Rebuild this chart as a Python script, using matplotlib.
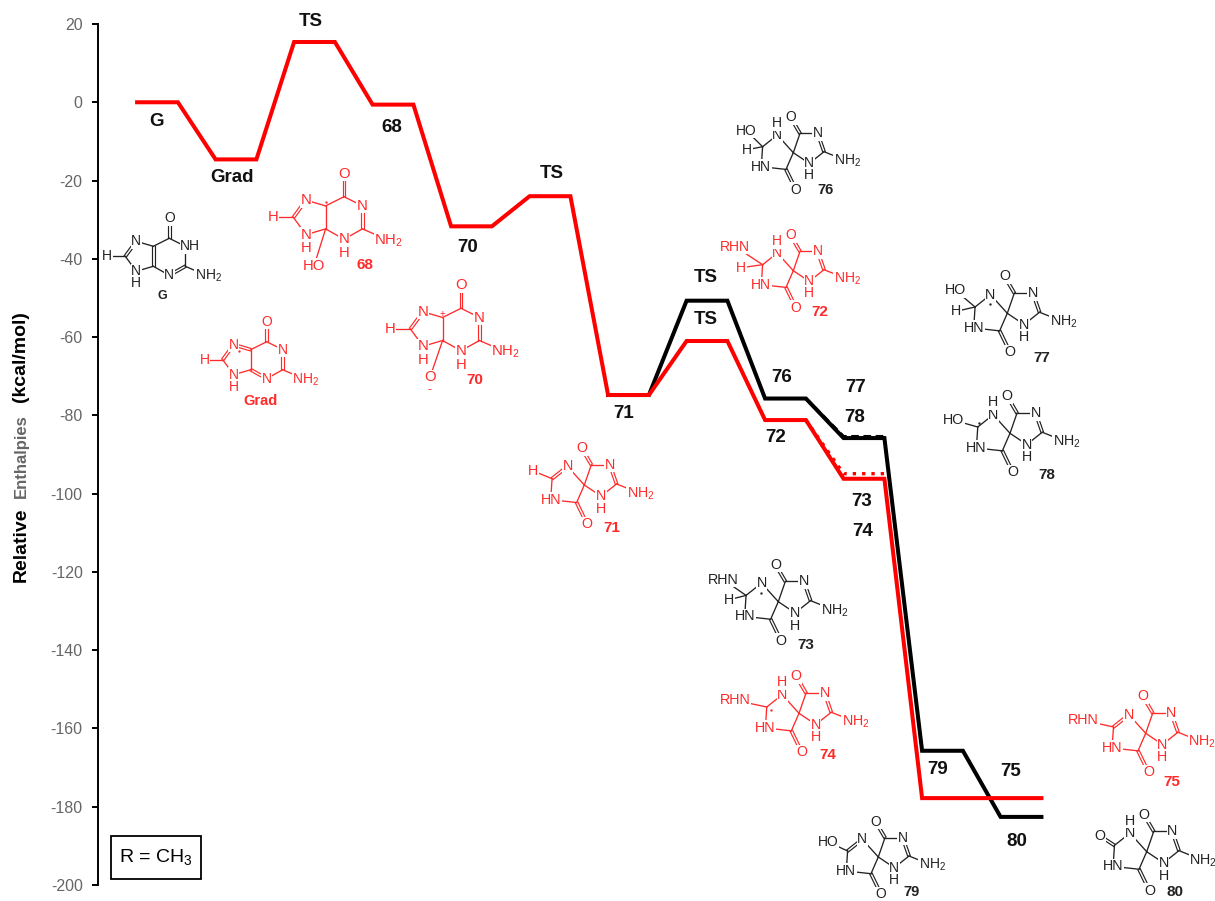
import matplotlib
matplotlib.use('Agg')
from matplotlib import pyplot as plt
from matplotlib.patches import Rectangle

plt.rcParams['font.family'] = ['Liberation Sans', 'DejaVu Sans']
plt.rcParams['mathtext.default'] = 'regular'
plt.rcParams['axes.unicode_minus'] = False

RED = '#ff0000'
MOLRED = '#ff2a2a'
MOLBLACK = '#222222'
GREY = '#666666'

# energy profile, stage index -> relative enthalpy
red_stages = [0, 1, 2, 3, 4, 5, 6, 7, 8, 9, 10, 11]
red_values = [0, -14.6, 15.4, -0.6, -31.7, -24, -74.8, -61, -81.2, -96.2, -177.8, -177.8]
black_stages = [6, 7, 8, 9, 10, 11]
black_values = [-74.8, -50.7, -75.7, -85.8, -165.7, -182.6]
red_dot_stages = [8, 9]
red_dot_values = [-81.2, -94.9]
black_dash_stages = [8, 9]
black_dash_values = [-75.7, -85.4]
yticks = [20, 0, -20, -40, -60, -80, -100, -120, -140, -160, -180, -200]

# (text, x px, y px)
level_labels = [('G', 156, 122), ('Grad', 232, 177), ('TS', 311, 22), ('68', 392, 127),
                ('70', 468, 247), ('TS', 552, 174), ('71', 624, 413), ('TS', 706, 278),
                ('TS', 706, 319), ('76', 782, 377), ('72', 776, 438), ('77', 856, 387),
                ('78', 855, 418), ('73', 862, 501), ('74', 863, 532), ('79', 938, 769),
                ('75', 1011, 772), ('80', 1017, 841)]

W, H = 1215, 901
HALF = 0.26


def level_path(stages, values):
    xs, ys = [], []
    for s, v in zip(stages, values):
        xs += [s - HALF, s + HALF]
        ys += [v, v]
    return xs, ys


fig = plt.figure(figsize=(W / 100, H / 100), dpi=100)

ov = fig.add_axes([0, 0, 1, 1])
ov.set_xlim(0, W)
ov.set_ylim(H, 0)
ov.axis('off')

ax = fig.add_axes([98 / W, (H - 885) / H, (W - 98) / W, (885 - 24) / H])
ax.patch.set_alpha(0)
ax.set_xlim((98 - 157.5) / 78.5, (W - 157.5) / 78.5)
ax.set_ylim(-200, 20)
for side in ['top', 'right', 'bottom']:
    ax.spines[side].set_visible(False)
ax.spines['left'].set_linewidth(1.4)
ax.set_xticks([])
ax.set_yticks(yticks)
ax.tick_params(axis='y', length=4, width=1.4, colors='black', labelcolor=GREY, labelsize=11.5, pad=7)

x, y = level_path(black_stages, black_values)
ax.plot(x, y, color='black', lw=2.9, solid_joinstyle='miter', zorder=3)
x, y = level_path(red_stages[:-1], red_values[:-1])
x.append(11 + HALF)
y.append(red_values[-1])
ax.plot(x, y, color=RED, lw=2.9, solid_joinstyle='miter', zorder=4)
x, y = level_path(black_dash_stages, black_dash_values)
ax.plot(x[1:], y[1:], color='black', lw=2.2, ls=(0, (2.5, 1.5)), zorder=3)
x, y = level_path(red_dot_stages, red_dot_values)
ax.plot(x[1:], y[1:], color=RED, lw=2.4, ls=(0, (1, 1.8)), zorder=4)

for txt, px, py in level_labels:
    ov.text(px, py, txt, fontsize=13.5, fontweight='bold', ha='center', va='center', color='#111111')

# y label, three colours
ylab = dict(rotation=90, fontweight='bold', ha='left', va='center', rotation_mode='anchor')
ov.text(21, 582, 'Relative', fontsize=14, color='black', **ylab)
ov.text(21, 498, 'Enthalpies', fontsize=12, color=GREY, **ylab)
ov.text(21, 402, '(kcal/mol)', fontsize=14, color='black', **ylab)

ov.add_patch(Rectangle((111, 836), 90, 43, fc='white', ec='black', lw=1.3))
ov.text(156, 857, 'R = CH$_3$', fontsize=14, ha='center', va='center', color='black')


# structure drawing, offsets in px from an anchor atom
def bond(a, b, col, double=False):
    if double:
        dx, dy = b[0] - a[0], b[1] - a[1]
        n = (dx * dx + dy * dy) ** 0.5
        ox, oy = -dy / n * 1.3, dx / n * 1.3
        for k in (-1, 1):
            ov.plot([a[0] + k * ox, b[0] + k * ox], [a[1] + k * oy, b[1] + k * oy], color=col, lw=0.85, zorder=1)
    else:
        ov.plot([a[0], b[0]], [a[1], b[1]], color=col, lw=0.95, zorder=1)


def atom(p, txt, col, size):
    ov.text(p[0], p[1], txt, color=col, fontsize=size, ha='center', va='center', zorder=2,
            bbox=dict(fc='white', ec='none', pad=0.4))


def radical(p, col):
    ov.plot([p[0]], [p[1]], 'o', color=col, ms=1.7, mew=0, zorder=3)


PUR = dict(C6=(0, 0), O=(0, -20), C5=(-16, 8), C4=(-16, 28), N3=(0, 37), C2=(16, 28), N1=(16, 8),
           N7=(-33, 3), C8=(-44, 18), N9=(-33, 33), HL=(-62, 18), NH2=(39, 38))


def purine(cx, cy, col, scale, kind):
    size = 10 * scale ** 0.5
    P = {k: (cx + v[0] * scale, cy + v[1] * scale) for k, v in PUR.items()}
    bond(P['C6'], P['O'], col, True)
    bond(P['C5'], P['C6'], col)
    bond(P['C6'], P['N1'], col)
    bond(P['C2'], P['N3'], col, kind in ('G',))
    bond(P['N1'], P['C2'], col, kind != 'G')
    bond(P['N3'], P['C4'], col, kind == 'Grad')
    bond(P['C5'], P['C4'], col, kind == 'G')
    bond(P['C5'], P['N7'], col, kind == 'Grad')
    bond(P['N7'], P['C8'], col, True)
    bond(P['C8'], P['N9'], col)
    bond(P['N9'], P['C4'], col)
    bond(P['C8'], P['HL'], col)
    bond(P['C2'], P['NH2'], col)
    atom(P['O'], 'O', col, size)
    atom(P['N7'], 'N', col, size)
    atom(P['N9'], 'N', col, size)
    atom((P['N9'][0], P['N9'][1] + 12 * scale), 'H', col, size)
    atom(P['HL'], 'H', col, size)
    atom(P['NH2'], 'NH$_2$', col, size)
    if kind == 'G':
        atom((P['N1'][0] + 5, P['N1'][1]), 'NH', col, size)
    else:
        atom(P['N1'], 'N', col, size)
    atom(P['N3'], 'N', col, size)
    if kind in ('68', '70'):
        atom((P['N3'][0], P['N3'][1] + 12 * scale), 'H', col, size)
        end = (P['C4'][0] + (-10 if kind == '68' else -11) * scale, P['C4'][1] + 32 * scale)
        bond(P['C4'], end, col)
        atom(end, 'HO' if kind == '68' else 'O', col, size)
        if kind == '68':
            radical((P['C5'][0], P['C5'][1] - 4), col)
        else:
            ov.text(P['C5'][0], P['C5'][1] - 4, '+', color=col, fontsize=7, ha='center', va='center', zorder=3)
            ov.text(end[0], end[1] + 11 * scale, '-', color=col, fontsize=9, ha='center', va='center')
    if kind == 'Grad':
        radical((P['N7'][0] + 5, P['N7'][1] + 6), col)


SPI = dict(S=(0, 0), Cu=(6.7, -19.3), Ou=(-2.7, -35.3), Nr=(24.3, -19.3), C2=(30.7, -1), Nl=(16, 10.7),
           NH2=(54, 8.3), Nt=(-16, -17.7), CL=(-30.7, -6), NHl=(-32, 14), Cl=(-7.3, 16.7), Ol=(2.7, 37.3))


def spiro(sx, sy, col, scale, sub=None, subxy=None, hxy=None, nt_h=True, cl_double=False, dot=None):
    size = 10 * scale ** 0.5
    P = {k: (sx + v[0] * scale, sy + v[1] * scale) for k, v in SPI.items()}
    bond(P['S'], P['Cu'], col)
    bond(P['Cu'], P['Ou'], col, True)
    bond(P['Cu'], P['Nr'], col)
    bond(P['Nr'], P['C2'], col, True)
    bond(P['C2'], P['Nl'], col)
    bond(P['Nl'], P['S'], col)
    bond(P['C2'], P['NH2'], col)
    bond(P['S'], P['Nt'], col)
    bond(P['Nt'], P['CL'], col, cl_double)
    bond(P['CL'], P['NHl'], col)
    bond(P['NHl'], P['Cl'], col)
    bond(P['Cl'], P['S'], col)
    bond(P['Cl'], P['Ol'], col, True)
    atom(P['Ou'], 'O', col, size)
    atom(P['Nr'], 'N', col, size)
    atom(P['Nl'], 'N', col, size)
    atom((P['Nl'][0], P['Nl'][1] + 12 * scale), 'H', col, size)
    atom(P['NH2'], 'NH$_2$', col, size)
    atom(P['Nt'], 'N', col, size)
    if nt_h:
        atom((P['Nt'][0], P['Nt'][1] - 12 * scale), 'H', col, size)
    atom(P['NHl'], 'HN', col, size)
    atom(P['Ol'], 'O', col, size)
    if sub:
        p = (sx + subxy[0], sy + subxy[1])
        bond(P['CL'], p, col, sub == 'O')
        atom(p, sub, col, size)
    if hxy:
        p = (sx + hxy[0], sy + hxy[1])
        bond(P['CL'], p, col)
        atom(p, 'H', col, size)
    if dot:
        radical((sx + dot[0], sy + dot[1]), col)


purine(169.3, 238.3, MOLBLACK, 1.0, 'G')
purine(266.7, 341.7, MOLRED, 1.0, 'Grad')
purine(344, 196.7, MOLRED, 1.15, '68')
purine(461, 308.3, MOLRED, 1.15, '70')

spiro(584.3, 485, MOLRED, 1.05, sub='H', subxy=(-51, -14), nt_h=False, cl_double=True)
spiro(793.3, 152.7, MOLBLACK, 1.0, sub='HO', subxy=(-47, -22), hxy=(-46, -3))
spiro(793.3, 270.7, MOLRED, 1.0, sub='RHN', subxy=(-58, -24), hxy=(-52, -3))
spiro(778.3, 601.7, MOLBLACK, 1.05, sub='RHN', subxy=(-55, -22), hxy=(-49, -2), nt_h=False, dot=(-17, -9))
spiro(799, 713.3, MOLRED, 1.05, sub='RHN', subxy=(-64, -13), dot=(-28, -3))
spiro(1007.3, 313.3, MOLBLACK, 1.05, sub='HO', subxy=(-52, -23), hxy=(-51, -2), nt_h=False, dot=(-17, -9))
spiro(1010, 433.3, MOLBLACK, 1.05, sub='HO', subxy=(-56, -13), dot=(-31, -10))
spiro(878.3, 857, MOLBLACK, 1.0, sub='HO', subxy=(-50, -15), nt_h=False, cl_double=True)
spiro(1145.7, 733.3, MOLRED, 1.05, sub='RHN', subxy=(-62, -13), nt_h=False, cl_double=True)
spiro(1146.7, 851.7, MOLBLACK, 1.05, sub='O', subxy=(-47, -16))

# compound numbers under the structures
struct_labels = [('G', 162, 296, MOLBLACK, 9), ('Grad', 260, 401, MOLRED, 10.5), ('68', 365, 265, MOLRED, 11),
                 ('70', 475, 380, MOLRED, 11), ('71', 612, 528, MOLRED, 11), ('72', 820, 312, MOLRED, 11),
                 ('76', 825, 190, MOLBLACK, 10.5), ('73', 806, 645, MOLBLACK, 11), ('74', 828, 755, MOLRED, 11),
                 ('77', 1042, 358, MOLBLACK, 11), ('78', 1047, 475, MOLBLACK, 11), ('79', 912, 892, MOLBLACK, 10.5),
                 ('75', 1172, 782, MOLRED, 11), ('80', 1175, 892, MOLBLACK, 11)]
for txt, px, py, col, size in struct_labels:
    ov.text(px, py, txt, color=col, fontsize=size, fontweight='bold', ha='center', va='center', zorder=3)

plt.savefig('out.png', dpi=100)
